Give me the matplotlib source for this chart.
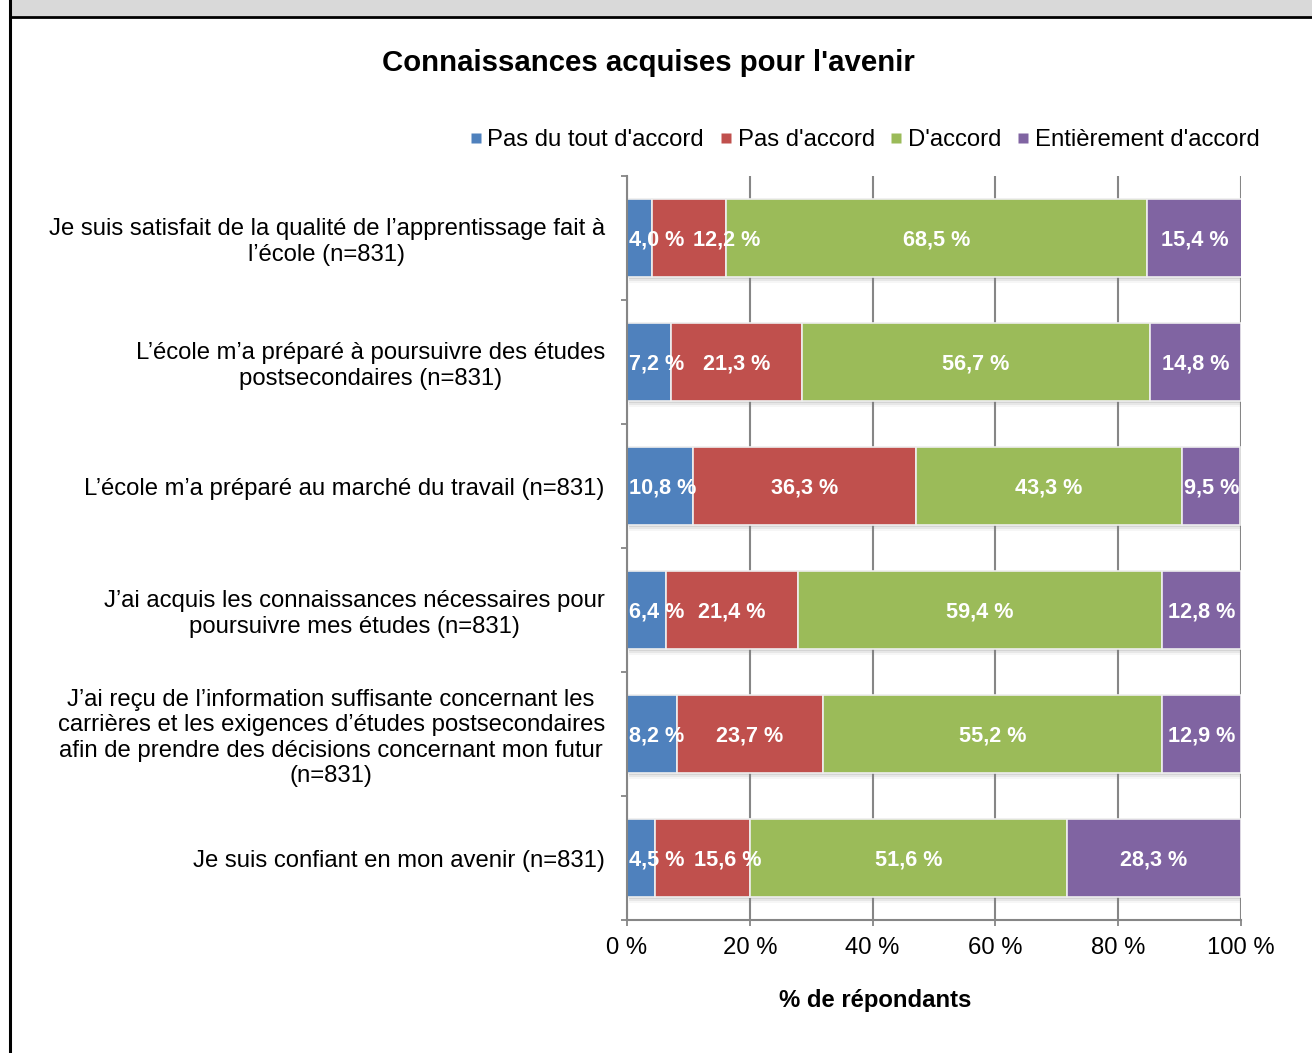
import numpy as np
import matplotlib
matplotlib.use('Agg')
import matplotlib.pyplot as plt
from matplotlib.lines import Line2D
from matplotlib.patches import Rectangle

plt.rcParams['font.family'] = ['Liberation Sans', 'DejaVu Sans']

# ── Data ──────────────────────────────────────────────────────
questions = [
    "Je suis satisfait de la qualité de l\u2019apprentissage fait à\nl\u2019école (n=831)",
    "L\u2019école m\u2019a préparé à poursuivre des études\npostsecondaires (n=831)",
    "L\u2019école m\u2019a préparé au marché du travail (n=831)",
    "J\u2019ai acquis les connaissances nécessaires pour\npoursuivre mes études (n=831)",
    "J\u2019ai reçu de l\u2019information suffisante concernant les\ncarrières et les exigences d\u2019études postsecondaires\nafin de prendre des décisions concernant mon futur\n(n=831)",
    "Je suis confiant en mon avenir (n=831)",
]
categories = ["Pas du tout d'accord", "Pas d'accord", "D'accord", "Entièrement d'accord"]
pas_du_tout = [4.0, 7.2, 10.8, 6.4, 8.2, 4.5]
pas_accord = [12.2, 21.3, 36.3, 21.4, 23.7, 15.6]
accord = [68.5, 56.7, 43.3, 59.4, 55.2, 51.6]
entierement = [15.4, 14.8, 9.5, 12.8, 12.9, 28.3]
colors = ['#4F81BD', '#C0504D', '#9BBB59', '#8064A2']

series = np.array([pas_du_tout, pas_accord, accord, entierement])
y = np.arange(len(questions))

FS = 17.2

fig = plt.figure(figsize=(13.12, 10.53), dpi=100)

# page frame: grey header strip and left rule
fig.patches.append(Rectangle((10 / 1312, 1 - 16 / 1053), 1, 16 / 1053,
                             transform=fig.transFigure, facecolor='#d9d9d9',
                             edgecolor='none', zorder=0))
fig.lines.append(Line2D([10 / 1312, 1], [1 - 16.5 / 1053] * 2,
                        transform=fig.transFigure, color='black', lw=2))
fig.lines.append(Line2D([10 / 1312] * 2, [0, 1],
                        transform=fig.transFigure, color='black', lw=2.2))

ax = fig.add_axes([627 / 1312, 133 / 1053, 614 / 1312, 744 / 1053])

bar_h = 0.63
# soft drop shadow under each bar (a few stacked translucent layers)
totals = series.sum(axis=0)
for off, a in [(0.015, 0.18), (0.03, 0.12), (0.045, 0.07)]:
    ax.barh(y + off, totals, height=bar_h, left=0.3, color='#808080',
            alpha=a, zorder=1.5, linewidth=0)

left = np.zeros(len(questions))
label_rows = [[] for _ in questions]
for vals, name, col in zip(series, categories, colors):
    ax.barh(y, vals, height=bar_h, left=left, color=col, edgecolor='#eeeeee',
            linewidth=1.2, label=name, zorder=2)
    for i, v in enumerate(vals):
        txt = ax.text(left[i] + v / 2, y[i] + 0.015, f"{v:.1f} %".replace('.', ','),
                      ha='center', va='center', color='white',
                      fontsize=15.6, fontweight='bold', zorder=4)
        label_rows[i].append(txt)
    left += vals

ax.set_xlim(0, 100)
ax.set_ylim(len(questions) - 0.5, -0.5)
ax.set_xticks(np.arange(0, 101, 20))
ax.set_xticklabels([f"{t} %" for t in range(0, 101, 20)], fontsize=FS)
ax.set_yticks(y)
ax.set_yticklabels(questions, fontsize=FS)
for t in ax.get_yticklabels():
    t.set_multialignment('center')
ax.set_yticks(np.arange(-0.5, len(questions)), minor=True)

ax.tick_params(axis='y', which='major', length=0, pad=16)
ax.tick_params(axis='y', which='minor', length=4.5, width=1.3, color='#868686')
ax.tick_params(axis='x', which='major', length=4.5, width=1.3, color='#868686', pad=8)

ax.grid(axis='x', color='#868686', linewidth=1.5, zorder=0)
ax.set_axisbelow(True)
for side in ['top', 'right']:
    ax.spines[side].set_visible(False)
for side in ['left', 'bottom']:
    ax.spines[side].set_color('#868686')
    ax.spines[side].set_linewidth(1.5)

# nudge value labels so neighbours in a row never overlap
fig.canvas.draw()
renderer = fig.canvas.get_renderer()
inv = ax.transData.inverted()
for row in label_rows:
    prev_right = None
    for k, txt in enumerate(row):
        bb = txt.get_window_extent(renderer)
        x_disp, y_disp = ax.transData.transform(txt.get_position())
        if k == 0:
            axis_left = ax.transData.transform((0, 0))[0]
            if bb.x0 < axis_left + 2:
                x_disp += axis_left + 2 - bb.x0
        elif bb.x0 < prev_right + 9:
            x_disp += prev_right + 9 - bb.x0
        txt.set_position(inv.transform((x_disp, y_disp)))
        bb = txt.get_window_extent(renderer)
        prev_right = bb.x1

fig.text(648 / 1312, 1 - 63 / 1053, "Connaissances acquises pour l'avenir",
         ha='center', va='center', fontsize=21.2, fontweight='bold')
fig.text(875 / 1312, 1 - 1001 / 1053, "% de répondants",
         ha='center', va='center', fontsize=FS, fontweight='bold')

handles = [Line2D([], [], marker='s', linestyle='none', markersize=7,
                  markerfacecolor=c, markeredgecolor='none') for c in colors]
fig.legend(handles, categories, loc='center', ncol=4, frameon=False,
           bbox_to_anchor=(864 / 1312, 1 - 140 / 1053), fontsize=FS,
           handlelength=0.6, handletextpad=0.2, columnspacing=0.6)

fig.savefig('out.png', dpi=100)
